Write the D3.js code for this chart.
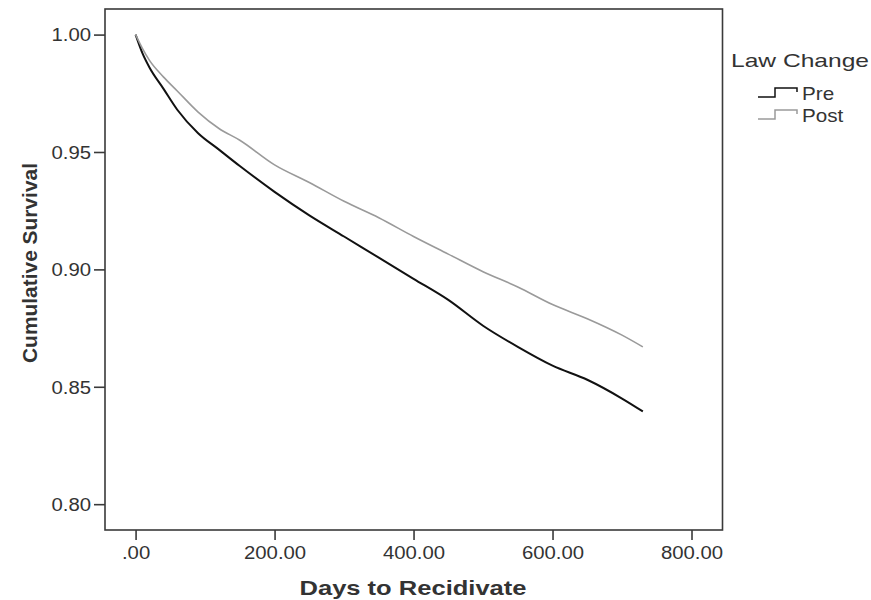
<!DOCTYPE html>
<html>
<head>
<meta charset="utf-8">
<script src="https://cdn.jsdelivr.net/npm/d3@7"></script>
<style>
  html, body { margin: 0; padding: 0; background: #fff; }
  svg { display: block; }
  text { font-family: "Liberation Sans", Arial, sans-serif; fill: #333; }
</style>
</head>
<body>
<svg id="chart" width="871" height="600"></svg>
<script>
// ---- data ----
const days = [0, 10, 20, 40, 60, 90, 120, 150, 200, 250, 300, 350, 400, 450, 500, 550, 600, 650, 700, 730];
const preSurvival = [1.000, 0.992, 0.986, 0.977, 0.968, 0.958, 0.951, 0.944, 0.933, 0.923, 0.914, 0.905, 0.896, 0.887, 0.876, 0.867, 0.859, 0.853, 0.845, 0.8395];
const postSurvival = [1.000, 0.994, 0.989, 0.982, 0.976, 0.967, 0.960, 0.955, 0.9445, 0.937, 0.929, 0.922, 0.914, 0.9065, 0.899, 0.8925, 0.885, 0.879, 0.872, 0.867];
const seriesNames = ["Pre", "Post"];
const xTickValues = [0, 200, 400, 600, 800];
const xTickLabels = [".00", "200.00", "400.00", "600.00", "800.00"];
const yTickValues = [0.80, 0.85, 0.90, 0.95, 1.00];
const yTickLabels = ["0.80", "0.85", "0.90", "0.95", "1.00"];
const legendTitle = "Law Change";
const xTitle = "Days to Recidivate";
const yTitle = "Cumulative Survival";

// ---- layout ----
const svg = d3.select("#chart");
const L = 105, R = 722.5, T = 9, B = 530;
const x = d3.scaleLinear().domain([-44, 844.6]).range([L, R]);
const y = d3.scaleLinear().domain([0.789, 1.0109]).range([B, T]);
const axisColor = "#3a3a3a";
const textScale = 1.13;

const series = [
  { name: seriesNames[0], values: preSurvival, color: "#111111", width: 2 },
  { name: seriesNames[1], values: postSurvival, color: "#9a9a9a", width: 1.6 }
];

// frame
svg.append("rect")
  .attr("x", L).attr("y", T).attr("width", R - L).attr("height", B - T)
  .attr("fill", "none").attr("stroke", axisColor).attr("stroke-width", 1.6);

// x axis
const xAxis = d3.axisBottom(x).tickValues(xTickValues)
  .tickFormat((d, i) => xTickLabels[i]).tickSize(10).tickSizeOuter(0);
const gx = svg.append("g").attr("transform", `translate(0,${B})`).call(xAxis);
gx.select(".domain").remove();
gx.selectAll(".tick line").attr("stroke", axisColor).attr("stroke-width", 1.6);
gx.selectAll(".tick text").each(function() {
  const t = d3.select(this);
  t.attr("y", 0).attr("dy", null).attr("fill", "#333")
   .style("font-size", "18px")
   .attr("transform", `translate(0,29) scale(${textScale},1)`);
});

// y axis
const yAxis = d3.axisLeft(y).tickValues(yTickValues)
  .tickFormat((d, i) => yTickLabels[i]).tickSize(11).tickSizeOuter(0);
const gy = svg.append("g").attr("transform", `translate(${L},0)`).call(yAxis);
gy.select(".domain").remove();
gy.selectAll(".tick line").attr("stroke", axisColor).attr("stroke-width", 1.6);
gy.selectAll(".tick text").each(function() {
  const t = d3.select(this);
  t.attr("x", 0).attr("dy", "0.35em").attr("fill", "#333")
   .style("font-size", "18px")
   .attr("transform", `translate(-14,0) scale(${textScale},1)`);
});

// lines
const line = d3.line().x((d) => x(d[0])).y((d) => y(d[1])).curve(d3.curveMonotoneX);
series.forEach(s => {
  svg.append("path")
    .datum(days.map((d, i) => [d, s.values[i]]))
    .attr("fill", "none")
    .attr("stroke", s.color)
    .attr("stroke-width", s.width)
    .attr("stroke-linejoin", "round")
    .attr("d", line);
});

// axis titles
svg.append("text")
  .attr("x", 413).attr("y", 595)
  .attr("text-anchor", "middle")
  .attr("textLength", 227).attr("lengthAdjust", "spacingAndGlyphs")
  .style("font-size", "21px").style("font-weight", "bold").attr("fill", "#111")
  .text(xTitle);

svg.append("text")
  .attr("transform", "translate(37,263) rotate(-90)")
  .attr("text-anchor", "middle")
  .attr("textLength", 200).attr("lengthAdjust", "spacingAndGlyphs")
  .style("font-size", "19.5px").style("font-weight", "bold").attr("fill", "#111")
  .text(yTitle);

// legend
svg.append("text")
  .attr("x", 731).attr("y", 67)
  .attr("textLength", 138).attr("lengthAdjust", "spacingAndGlyphs")
  .style("font-size", "19px").attr("fill", "#333")
  .text(legendTitle);

const legendY = [100, 122];
series.forEach((s, i) => {
  const by = legendY[i];
  svg.append("path")
    .attr("d", `M758,${by - 3}H775V${by - 12}H797V${by - 8}`)
    .attr("fill", "none").attr("stroke", s.color).attr("stroke-width", 1.5);
  svg.append("text")
    .attr("transform", `translate(802,${by}) scale(${textScale + 0.05},1)`)
    .style("font-size", "17.5px").attr("fill", "#333")
    .text(s.name);
});
</script>
</body>
</html>
